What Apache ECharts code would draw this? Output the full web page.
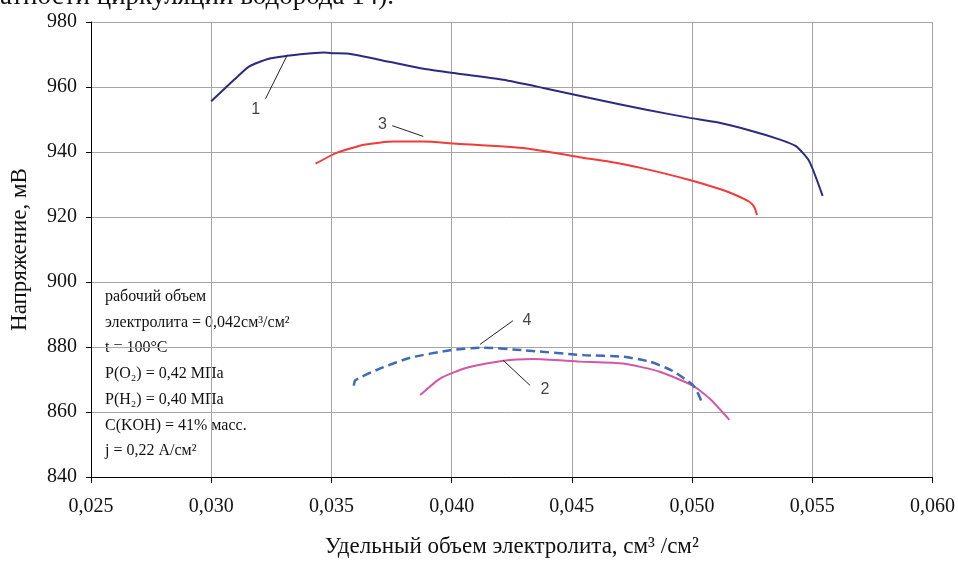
<!DOCTYPE html>
<html><head><meta charset="utf-8">
<script src="https://cdn.jsdelivr.net/npm/echarts@6/dist/echarts.min.js"></script>
<style>html,body{margin:0;padding:0;background:#fff}#c{width:958px;height:563px}</style>
</head><body><div id="c"></div>
<script>
// Curve 1
const x1 = [0.0300,0.03095,0.03157,0.0324,0.03316,0.03371,0.03468,0.0351,0.03565,0.03745,0.03883,0.04008,0.04215,0.04381,0.04575,0.0481,0.0499,0.0510,0.05252,0.05363,0.05432,0.05487,0.05543];
const y1 = [955.6,962.2,966.3,968.7,969.6,970.1,970.6,970.4,970.3,967.7,965.6,964.3,962.2,959.7,956.6,953.0,950.5,949.2,946.4,943.9,941.8,937.2,926.5];
// Curve 3
const x3 = [0.03434,0.03524,0.03641,0.03759,0.03883,0.04008,0.04312,0.04533,0.04658,0.04782,0.0499,0.05128,0.05183,0.05238,0.05259,0.0527];
const y3 = [936.4,939.8,942.3,943.2,943.2,942.6,941.1,938.4,937.0,935.2,931.4,928.3,926.7,924.7,923.0,920.6];
// Curve 4
const x4 = [0.03593,0.0360,0.03703,0.03828,0.03994,0.04132,0.04298,0.04547,0.04713,0.04824,0.0492,0.05003,0.05024,0.05045];
const y4 = [868.1,869.8,873.4,876.7,879.0,879.8,879.0,877.5,877.0,875.5,872.6,868.3,865.8,862.2];
// Curve 2
const x2 = [0.03869,0.03952,0.04063,0.04215,0.0434,0.04533,0.04713,0.04865,0.05003,0.05072,0.05155];
const y2 = [865.2,870.3,873.6,875.8,876.3,875.5,874.9,872.4,868.1,864.2,857.6];
// Curve labels and leader lines (data coordinates)
const curveLabels = ['1','3','4','2'];
const labelPos = [[0.03185,953.0],[0.03712,948.5],[0.04313,888.1],[0.04388,867.0]];
const leaders = [
  [[0.03226,956.4],[0.03317,969.9]],
  [[0.03753,948.1],[0.03882,944.8]],
  [[0.04255,888.1],[0.04118,880.8]],
  [[0.04326,868.2],[0.04214,875.9]]
];
const xTitle = 'Удельный объем электролита, см³ /см²';
const yTitle = 'Напряжение, мВ';
const noteLines = ['рабочий объем','электролита = 0,042см³/см²','t = 100°C','P(O₂) = 0,42 МПа','P(H₂) = 0,40 МПа','C(KOH) = 41% масс.','j = 0,22 А/см²'];
const topText = 'атности циркуляции водорода 14).';

const zip = (xs, ys) => xs.map((x, i) => [x, ys[i]]);
const serif = '"Liberation Serif","Times New Roman",serif';
const sans = '"Liberation Sans",Arial,sans-serif';

const chart = echarts.init(document.getElementById('c'));
const series = [
  {type:'line', data: zip(x1,y1), showSymbol:false, smooth:0.2, lineStyle:{color:'#2b2a80', width:2}, z:5},
  {type:'line', data: zip(x3,y3), showSymbol:false, smooth:0.2, lineStyle:{color:'#f23a3a', width:2}, z:5},
  {type:'line', data: zip(x4,y4), showSymbol:false, smooth:0.2, lineStyle:{color:'#3d6bb5', width:2.5, type:[9,5]}, z:6},
  {type:'line', data: zip(x2,y2), showSymbol:false, smooth:0.2, lineStyle:{color:'#d457a6', width:2}, z:5}
];
leaders.forEach(l => series.push({type:'line', data:l, showSymbol:false, silent:true, lineStyle:{color:'#222', width:1}, z:7}));
series.push({type:'scatter', data: labelPos.map((p,i)=>({value:p, name:curveLabels[i]})), symbolSize:0, silent:true,
  label:{show:true, position:'inside', formatter: p => p.name, fontFamily: sans, fontSize:16, color:'#111'}, z:8});

chart.setOption({
  animation:false,
  grid:{left:90, right:25, top:22, bottom:84},
  xAxis:{type:'value', min:0.025, max:0.060, interval:0.005,
    name:xTitle, nameLocation:'middle', nameGap:58,
    nameTextStyle:{fontFamily:serif, fontSize:23, color:'#111'},
    axisLine:{lineStyle:{color:'#000', width:1}}, axisTick:{show:true, length:6, lineStyle:{color:'#000'}},
    axisLabel:{fontFamily:serif, fontSize:20, color:'#111', margin:20, formatter: v => v.toFixed(3).replace('.', ',')},
    splitLine:{show:true, lineStyle:{color:'#a6a6a6', width:1}}},
  yAxis:{type:'value', min:840, max:980, interval:20,
    name:yTitle, nameLocation:'middle', nameGap:60, nameRotate:90,
    nameTextStyle:{fontFamily:serif, fontSize:23, color:'#111'},
    axisLine:{show:true, lineStyle:{color:'#000', width:1}}, axisTick:{show:true, length:5, lineStyle:{color:'#000'}},
    axisLabel:{fontFamily:serif, fontSize:20, color:'#111', margin:14},
    splitLine:{show:true, lineStyle:{color:'#a6a6a6', width:1}}},
  graphic:[
    {type:'text', left:0, top:-17, style:{text:topText, fontFamily:serif, fontSize:27, fill:'#111'}},
    {type:'text', left:105, top:284, style:{text:noteLines.join('\n'), fontFamily:serif, fontSize:16, lineHeight:25.7, fill:'#111'}}
  ],
  series: series
});
</script></body></html>
